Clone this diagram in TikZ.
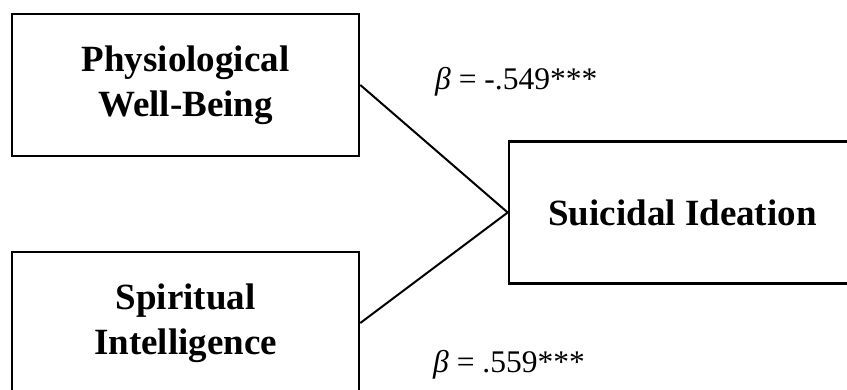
\documentclass[tikz,border=0pt]{standalone}
\usepackage{fontspec}
\setmainfont{Liberation Serif}
\begin{document}
\begin{tikzpicture}[x=1pt,y=1pt,
  varbox/.style={draw=black, line width=2.6pt, minimum width=347pt, minimum height=142pt,
    align=center, inner sep=0pt, font=\fontsize{37}{45}\selectfont\bfseries},
  path/.style={draw=black, line width=2pt},
  coef/.style={anchor=base west, inner sep=0pt, font=\fontsize{31.5}{34}\selectfont}]
\useasboundingbox (0,0) rectangle (847,390);
\clip (0,0) rectangle (847,390);
\node[varbox] (pwb) at (185.5,305) {Physiological\\Well-Being};
\node[varbox] (si) at (185.5,67) {Spiritual\\Intelligence};
\node[varbox] (sui) at (682.5,177.5) {Suicidal Ideation};
\draw[path] (pwb.east) -- (sui.west);
\draw[path] (si.east) -- (sui.west);
\node[coef] (b1) at (435,300) {\textit{β} = -.549***};
\node[coef] (b2) at (433,17) {\textit{β} = .559***};
\end{tikzpicture}
\end{document}
